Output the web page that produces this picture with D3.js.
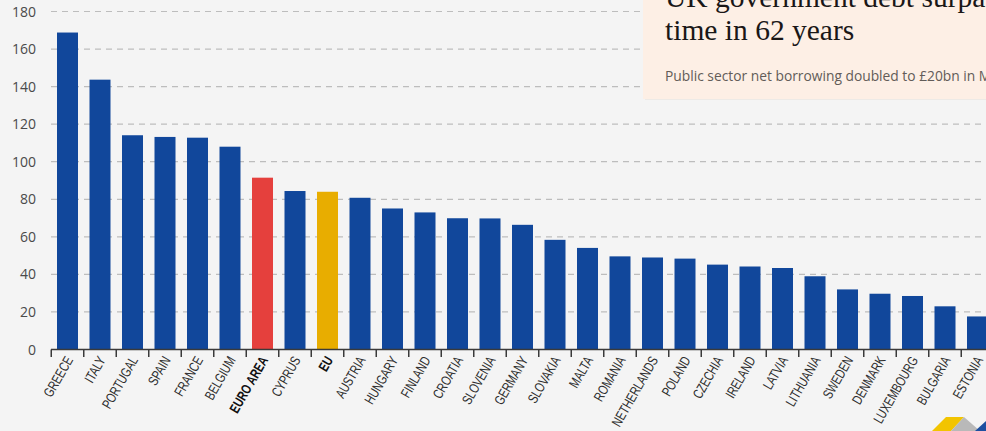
<!DOCTYPE html>
<html>
<head>
<meta charset="utf-8">
<script src="https://cdn.jsdelivr.net/npm/d3@7"></script>
<style>
  html, body { margin: 0; padding: 0; background: #f4f4f4; }
  svg { display: block; }
</style>
</head>
<body>
<div id="chart"></div>
<script>
const categories = ["GREECE","ITALY","PORTUGAL","SPAIN","FRANCE","BELGIUM","EURO AREA","CYPRUS","EU","AUSTRIA","HUNGARY","FINLAND","CROATIA","SLOVENIA","GERMANY","SLOVAKIA","MALTA","ROMANIA","NETHERLANDS","POLAND","CZECHIA","IRELAND","LATVIA","LITHUANIA","SWEDEN","DENMARK","LUXEMBOURG","BULGARIA","ESTONIA"];
const values = [168.8,143.7,114.1,113.2,112.8,108.0,91.5,84.4,84.0,80.8,75.1,73.0,69.9,69.8,66.4,58.4,54.1,49.6,49.0,48.4,45.2,44.2,43.4,39.0,32.0,29.7,28.5,23.0,17.6];
const groups = ["country","country","country","country","country","country","euro","country","eu","country","country","country","country","country","country","country","country","country","country","country","country","country","country","country","country","country","country","country","country"];
const yTicks = [0,20,40,60,80,100,120,140,160,180];
const titleLines = ["UK government debt surpasses", "time in 62 years"];
const subtitle = "Public sector net borrowing doubled to £20bn in May";

const W = 986, H = 431;
const colors = { country: "#11479b", euro: "#e5403d", eu: "#e8ad00" };

const svg = d3.select("#chart").append("svg").attr("width", W).attr("height", H);
svg.append("rect").attr("width", W).attr("height", H).attr("fill", "#f4f4f4");

const x = d3.scaleBand().domain(categories).range([51.25, 51.25 + 29 * 32.5])
  .paddingInner(0.354).paddingOuter(0.177);
const y = d3.scaleLinear().domain([0, 180]).range([349.5, 11.5]);

// gridlines
svg.append("g").selectAll("line").data(yTicks.filter(d => d > 0)).join("line")
  .attr("x1", 51).attr("x2", W)
  .attr("y1", d => y(d)).attr("y2", d => y(d))
  .attr("stroke", "#bdbdbd").attr("stroke-width", 1.2).attr("stroke-dasharray", "6,5");

// y labels
svg.append("g").selectAll("text").data(yTicks).join("text")
  .attr("x", 36).attr("y", d => y(d)).attr("dy", "0.36em")
  .attr("text-anchor", "end")
  .attr("font-family", "'Open Sans', 'Noto Sans', sans-serif")
  .attr("font-size", 14).attr("fill", "#4a4a4a")
  .text(d => d);

// bars
svg.append("g").selectAll("rect").data(categories).join("rect")
  .attr("x", d => x(d)).attr("width", x.bandwidth())
  .attr("y", (d, i) => y(values[i]))
  .attr("height", (d, i) => y(0) - y(values[i]))
  .attr("fill", (d, i) => colors[groups[i]]);

// x axis line and ticks
const bounds = d3.range(categories.length + 1).map(i => 51.25 + i * x.step());
svg.append("line").attr("x1", 51).attr("x2", W).attr("y1", 349.5).attr("y2", 349.5)
  .attr("stroke", "#3a3a3a").attr("stroke-width", 1.6);
svg.append("g").selectAll("line").data(bounds).join("line")
  .attr("x1", d => d).attr("x2", d => d).attr("y1", 349.5).attr("y2", 357)
  .attr("stroke", "#3a3a3a").attr("stroke-width", 1.5);

// x labels (condensed look)
svg.append("g").selectAll("text").data(categories).join("text")
  .attr("transform", d => `translate(${x(d) + x.bandwidth() / 2 + 6},360) rotate(-60) scale(0.75,1)`)
  .attr("text-anchor", "end")
  .attr("font-family", "'Liberation Sans Narrow', 'Liberation Sans', 'DejaVu Sans Condensed', sans-serif")
  .attr("font-size", 14)
  .attr("font-weight", (d, i) => groups[i] === "country" ? 400 : 700)
  .attr("fill", (d, i) => groups[i] === "country" ? "#2e2e2e" : "#111")
  .text(d => d);

// overlay card
const card = svg.append("g");
card.append("rect").attr("x", 645).attr("y", -5).attr("width", 345).attr("height", 105)
  .attr("fill", "#e8e2dc").attr("opacity", 0.6);
card.append("rect").attr("x", 643).attr("y", -5).attr("width", 345).attr("height", 104)
  .attr("fill", "#fdefe5");
card.selectAll("text.t").data(titleLines).join("text").attr("class", "t")
  .attr("x", 665).attr("y", (d, i) => 7 + i * 33)
  .attr("font-family", "'Liberation Serif', 'DejaVu Serif', serif")
  .attr("font-size", 29.5).attr("fill", "#1a1717")
  .text(d => d);
card.append("text").attr("x", 665).attr("y", 81)
  .attr("font-family", "'Open Sans', 'Noto Sans', sans-serif")
  .attr("font-size", 13.8).attr("fill", "#625c58")
  .text(subtitle);

// corner logo fragment
const logo = svg.append("g");
logo.append("polygon").attr("points", "932,431 946,417 964,417 951,431").attr("fill", "#f2c400");
logo.append("polygon").attr("points", "951,431 964,417 980,431").attr("fill", "#b9b9b9");
logo.append("polygon").attr("points", "975,431 986,421 986,431").attr("fill", "#1d4fa0");
</script>
</body>
</html>
